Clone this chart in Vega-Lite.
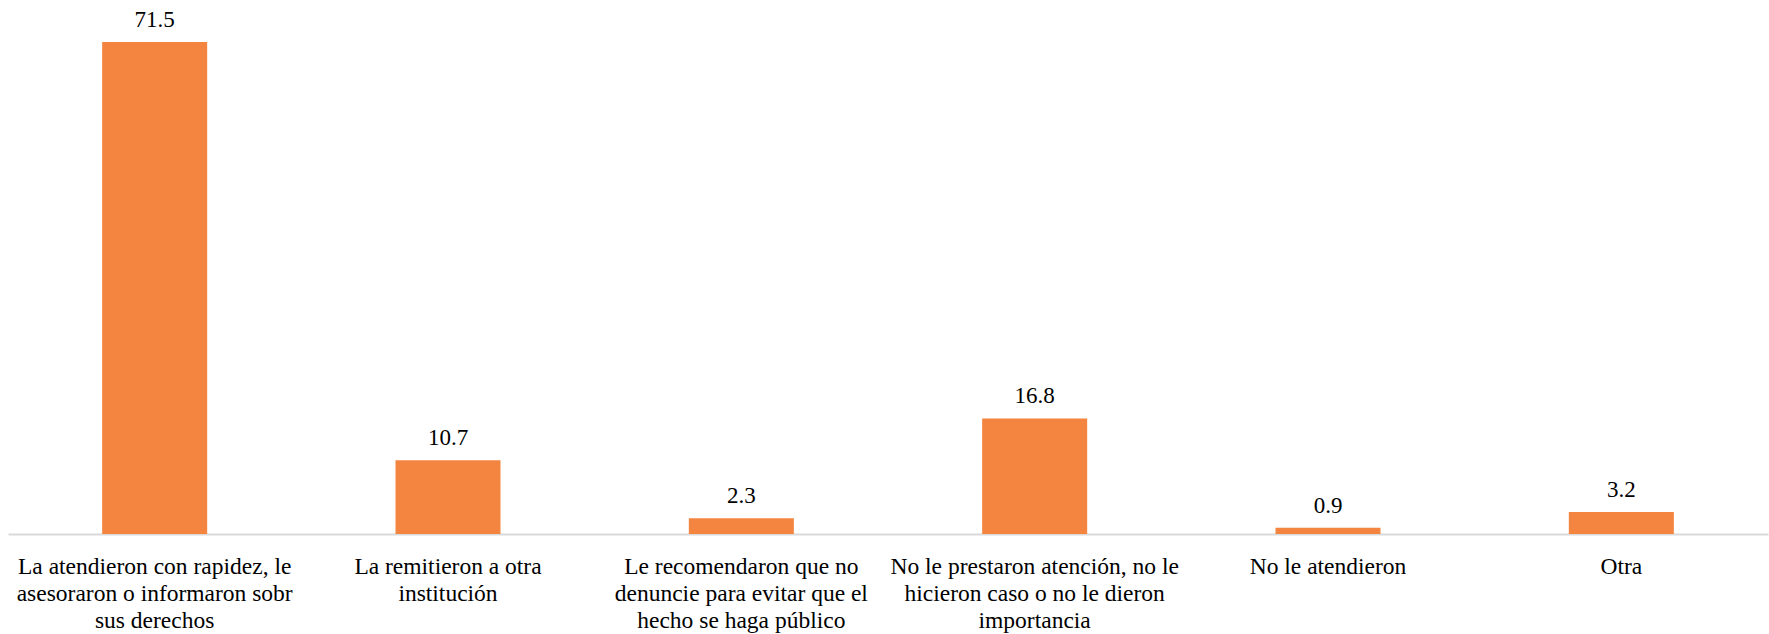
{
  "$schema": "https://vega.github.io/schema/vega-lite/v6.json",
  "width": 1760,
  "height": 534,
  "autosize": {"type": "none"},
  "padding": {"left": 8, "top": 0, "right": 1, "bottom": 100},
  "background": "white",
  "config": {"view": {"stroke": null}, "font": "Liberation Serif"},
  "data": {
    "values": [
      {"cat": "La atendieron con rapidez, le|asesoraron o informaron sobr|sus derechos", "value": 71.5},
      {"cat": "La remitieron a otra|institución", "value": 10.7},
      {"cat": "Le recomendaron que no|denuncie para evitar que el|hecho se haga público", "value": 2.3},
      {"cat": "No le prestaron atención, no le|hicieron caso o no le dieron|importancia", "value": 16.8},
      {"cat": "No le atendieron", "value": 0.9},
      {"cat": "Otra", "value": 3.2}
    ]
  },
  "encoding": {
    "x": {
      "field": "cat",
      "type": "nominal",
      "sort": null,
      "scale": {"paddingInner": 0.642, "paddingOuter": 0.321},
      "axis": {
        "title": null,
        "labelAngle": 0,
        "labelExpr": "split(datum.label, '|')",
        "labelFont": "Liberation Serif",
        "labelFontSize": 23.5,
        "labelColor": "#000000",
        "labelLineHeight": 27,
        "labelPadding": 20,
        "labelBaseline": "top",
        "ticks": false,
        "domainColor": "#d9d9d9",
        "domainWidth": 2,
        "labelLimit": 400
      }
    },
    "y": {
      "field": "value",
      "type": "quantitative",
      "scale": {"domain": [0, 77.6], "nice": false},
      "axis": null
    }
  },
  "layer": [
    {"mark": {"type": "bar", "color": "#F38540"}},
    {
      "mark": {"type": "text", "baseline": "alphabetic", "dy": -15, "fontSize": 23, "font": "Liberation Serif", "color": "#000000"},
      "encoding": {"text": {"field": "value", "type": "quantitative", "format": ".1f"}}
    }
  ]
}
